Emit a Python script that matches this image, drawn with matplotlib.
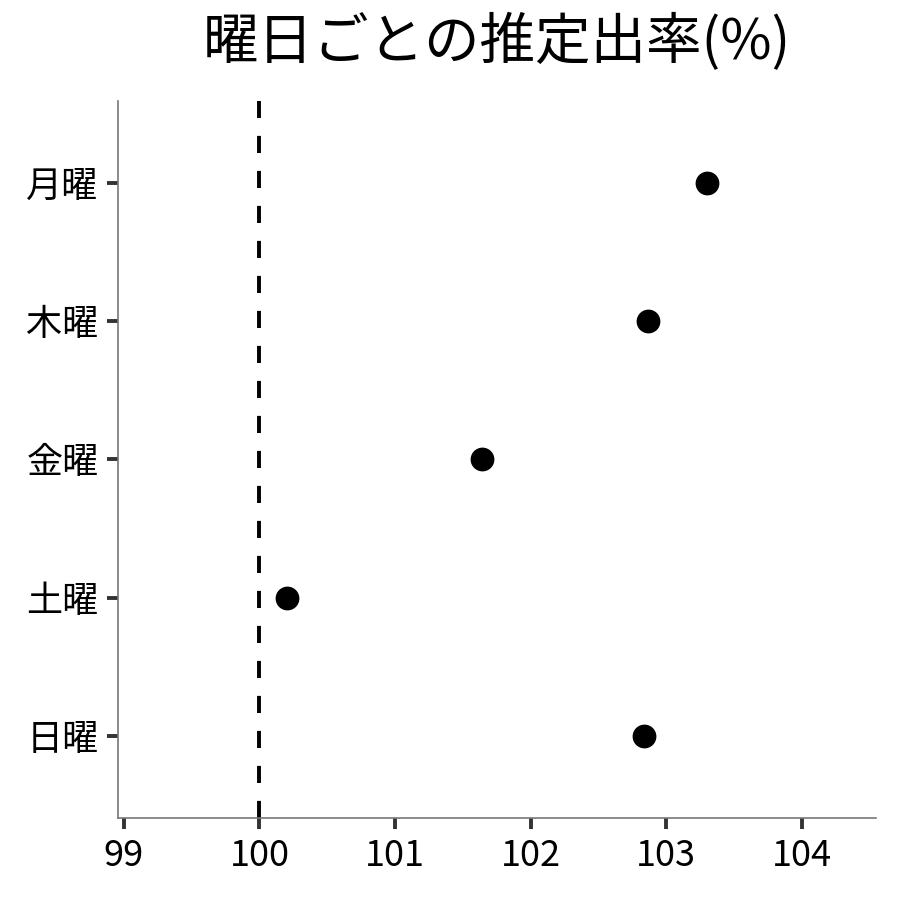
import matplotlib
matplotlib.use("Agg")
import matplotlib.pyplot as plt

plt.rcParams['font.family'] = ['Noto Sans CJK JP', 'DejaVu Sans']

days = ['月曜', '木曜', '金曜', '土曜', '日曜']
values = [103.30, 102.865, 101.64, 100.20, 102.835]
xticks = [99, 100, 101, 102, 103, 104]
title = '曜日ごとの推定出率(%)'

fig = plt.figure(figsize=(9, 9), dpi=100)
ax = fig.add_axes([0.131, 0.091, 0.842, 0.797])

ypos = list(range(len(days)))[::-1]
ax.scatter(values, ypos, s=260, color='black', zorder=3)
ax.axvline(100, color='black', linestyle=(0, (4.4, 4.6)), linewidth=2.8, zorder=2)

ax.set_xlim(98.956, 104.546)
ax.set_ylim(-0.59, 4.59)
ax.set_xticks(xticks)
ax.set_xticklabels([str(t) for t in xticks])
ax.set_yticks(ypos)
ax.set_yticklabels(days)
ax.tick_params(axis='both', length=8, width=2.8, color='#333333', labelsize=26, pad=6)

for s in ['top', 'right']:
    ax.spines[s].set_visible(False)
for s in ['left', 'bottom']:
    ax.spines[s].set_color('#777777')
    ax.spines[s].set_linewidth(1.2)

ax.set_title(title, fontsize=40, pad=30)

fig.savefig('out.png', dpi=100)
